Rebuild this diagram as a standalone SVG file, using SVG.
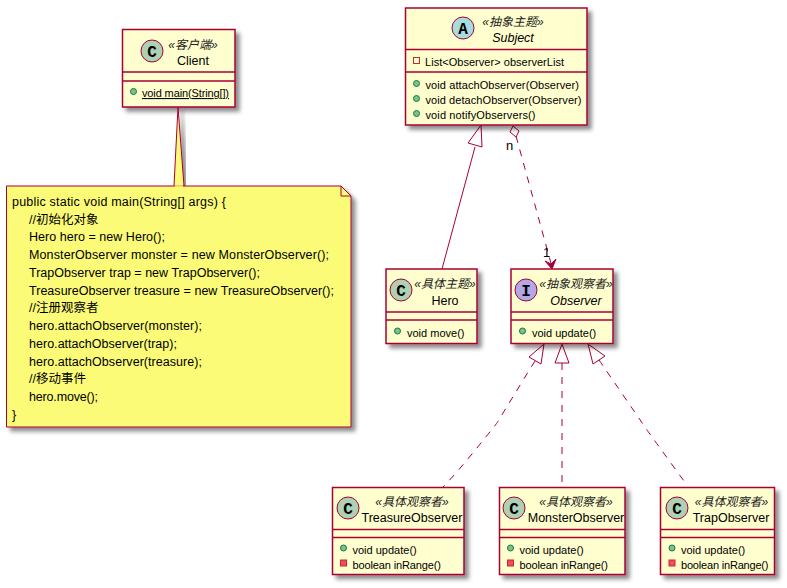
<svg xmlns="http://www.w3.org/2000/svg" width="787" height="588" viewBox="0 0 787 588">
<defs>
<filter id="sh" x="-10%" y="-10%" width="125%" height="125%"><feDropShadow dx="4" dy="4" stdDev="2" flood-color="#000" flood-opacity="0.45"/></filter>
</defs>
<style>
text{font-family:"Liberation Sans","Noto Sans CJK SC",sans-serif;fill:#000}
.box{fill:#FEFECE;stroke:#A80036;stroke-width:1.5;filter:url(#sh)}
.div{stroke:#A80036;stroke-width:1.5;fill:none}
.st{font-size:12px;font-style:italic;text-anchor:middle;fill:#222}
.nm{font-size:12.5px;text-anchor:middle}
.it{font-style:italic}
.m{font-size:11px}
.pub{fill:#84BE84;stroke:#038048;stroke-width:1}
.prv{fill:#F24D5C;stroke:#C82930;stroke-width:1}
.prf{fill:none;stroke:#C82930;stroke-width:1}
.ci{stroke:#A80036;stroke-width:1}
.gl{font-family:"Liberation Mono",monospace;font-size:16px;font-weight:bold;text-anchor:middle}
.c{fill:#ADD1B2}.a{fill:#A9DCDF}.i{fill:#B4A7E5}
.ln{stroke:#A80036;stroke-width:1;fill:none}
.da{stroke-dasharray:7 7}
.tri{fill:none;stroke:#A80036;stroke-width:1}
.nt{font-size:12.5px}
.lb{font-size:13px}
</style>

<g id="connectors">
<path class="ln" d="M442,269 L475,147"/>
<polygon class="tri" points="481,125 468,143 482,147"/>
<path class="ln da" d="M516,136 L552,267"/>
<polygon fill="#fff" stroke="#A80036" stroke-width="1" points="513,126 519,131 516,137 510,132"/>
<polygon fill="#A80036" stroke="#A80036" stroke-width="1" points="552,269 545,261 551,264 556,259"/>
<text class="lb" x="506" y="150">n</text>
<text class="lb" x="543" y="257">1</text>
<path class="ln da" d="M535,361 C520,385 497,423 497,423 S460,470 443,487"/>
<polygon class="tri" points="544,344 529,357 541,364"/>
<path class="ln da" d="M562,363 L562,484"/>
<polygon class="tri" points="562,344 555,363 569,363"/>
<path class="ln da" d="M599,360 C610,376 647,430 647,430 S670,462 684,481"/>
<polygon class="tri" points="588,344 593,364 605,356"/>
</g>

<g id="Subject">
<rect class="box" x="405.500" y="8" width="181.500" height="117"/>
<path class="div" d="M405.500,49.500H587M405.500,72H587"/>
<circle class="ci a" cx="463" cy="28" r="11"/>
<text class="gl" x="463" y="33.500">A</text>
<text class="st" x="513" y="26">«抽象主题»</text>
<text class="nm it" x="513" y="42">Subject</text>
<rect class="prf" x="413.500" y="57.500" width="6" height="6"/>
<text class="m" x="425" y="66" textLength="139">List&lt;Observer&gt; observerList</text>
<circle class="pub" cx="416.500" cy="83.500" r="3"/>
<text class="m" x="425.500" y="89" textLength="153.500">void attachObserver(Observer)</text>
<circle class="pub" cx="416.500" cy="98.500" r="3"/>
<text class="m" x="425.500" y="104" textLength="156">void detachObserver(Observer)</text>
<circle class="pub" cx="416.500" cy="113.500" r="3"/>
<text class="m" x="425.500" y="119" textLength="110">void notifyObservers()</text>
</g>

<g id="Client">
<rect class="box" x="122.500" y="29.500" width="112.500" height="77.500"/>
<path class="div" d="M122.500,72H235M122.500,81H235"/>
<circle class="ci c" cx="152" cy="51" r="11"/>
<text class="gl" x="152" y="56.500">C</text>
<text class="st" x="193" y="49">«客户端»</text>
<text class="nm" x="193" y="65">Client</text>
<circle class="pub" cx="133.500" cy="91.500" r="3"/>
<text class="m" x="142" y="97" text-decoration="underline" textLength="87">void main(String[])</text>
</g>

<g id="Note">
<path d="M178,107 L174,186 H184 Z" fill="#FBFB77" stroke="#A80036" stroke-width="1" filter="url(#sh)"/>
<path d="M6.500,186 H341 L351,196 V427 H6.500 Z" fill="#FBFB77" stroke="#A80036" stroke-width="1" filter="url(#sh)"/>
<path d="M174.800,186 H183" stroke="#FBFB77" stroke-width="1.500"/>
<path d="M341,186 V196 H351" fill="none" stroke="#A80036" stroke-width="1"/>
<text class="nt" x="12" y="206" textLength="214">public static void main(String[] args) {</text>
<text class="nt" x="29" y="224">//初始化对象</text>
<text class="nt" x="29" y="241" textLength="136">Hero hero = new Hero();</text>
<text class="nt" x="29" y="259" textLength="300">MonsterObserver monster = new MonsterObserver();</text>
<text class="nt" x="29" y="277" textLength="231">TrapObserver trap = new TrapObserver();</text>
<text class="nt" x="29" y="295" textLength="305">TreasureObserver treasure = new TreasureObserver();</text>
<text class="nt" x="29" y="312">//注册观察者</text>
<text class="nt" x="29" y="330" textLength="173">hero.attachObserver(monster);</text>
<text class="nt" x="29" y="348" textLength="148">hero.attachObserver(trap);</text>
<text class="nt" x="29" y="366" textLength="173">hero.attachObserver(treasure);</text>
<text class="nt" x="29" y="383">//移动事件</text>
<text class="nt" x="29" y="401" textLength="69">hero.move();</text>
<text class="nt" x="12" y="419">}</text>
</g>

<g id="Hero">
<rect class="box" x="386" y="269" width="91" height="74.500"/>
<path class="div" d="M386,312H477M386,320H477"/>
<circle class="ci c" cx="401" cy="290" r="11"/>
<text class="gl" x="401" y="295.500">C</text>
<text class="st" x="445" y="288">«具体主题»</text>
<text class="nm" x="445" y="305">Hero</text>
<circle class="pub" cx="397.500" cy="331" r="3"/>
<text class="m" x="407" y="336.500">void move()</text>
</g>

<g id="Observer">
<rect class="box" x="511" y="269" width="102" height="74.500"/>
<path class="div" d="M511,312H613M511,320H613"/>
<circle class="ci i" cx="526" cy="290" r="11"/>
<text class="gl" x="526" y="295.500">I</text>
<text class="st" x="576" y="288">«抽象观察者»</text>
<text class="nm it" x="576" y="305">Observer</text>
<circle class="pub" cx="522.500" cy="331" r="3"/>
<text class="m" x="532" y="336.500">void update()</text>
</g>

<g id="TreasureObserver">
<rect class="box" x="332.500" y="487.500" width="131.500" height="87"/>
<path class="div" d="M332.500,529.500H464M332.500,537.500H464"/>
<circle class="ci c" cx="348" cy="508" r="11"/>
<text class="gl" x="348" y="513.500">C</text>
<text class="st" x="412" y="506">«具体观察者»</text>
<text class="nm" x="412" y="522">TreasureObserver</text>
<circle class="pub" cx="343.500" cy="548" r="3"/>
<text class="m" x="352.500" y="553.500">void update()</text>
<rect class="prv" x="340.500" y="560" width="6" height="6"/>
<text class="m" x="352.500" y="568.500" textLength="88.500">boolean inRange()</text>
</g>

<g id="MonsterObserver">
<rect class="box" x="499.500" y="487.500" width="125.500" height="87"/>
<path class="div" d="M499.500,529.500H625M499.500,537.500H625"/>
<circle class="ci c" cx="514" cy="508" r="11"/>
<text class="gl" x="514" y="513.500">C</text>
<text class="st" x="576" y="506">«具体观察者»</text>
<text class="nm" x="576" y="522">MonsterObserver</text>
<circle class="pub" cx="510.500" cy="548" r="3"/>
<text class="m" x="519.500" y="553.500">void update()</text>
<rect class="prv" x="507.500" y="560" width="6" height="6"/>
<text class="m" x="519.500" y="568.500" textLength="88.500">boolean inRange()</text>
</g>

<g id="TrapObserver">
<rect class="box" x="660.500" y="487.500" width="114" height="87"/>
<path class="div" d="M660.500,529.500H774.500M660.500,537.500H774.500"/>
<circle class="ci c" cx="677" cy="508" r="11"/>
<text class="gl" x="677" y="513.500">C</text>
<text class="st" x="731.500" y="506">«具体观察者»</text>
<text class="nm" x="731" y="522">TrapObserver</text>
<circle class="pub" cx="672" cy="548" r="3"/>
<text class="m" x="681" y="553.500">void update()</text>
<rect class="prv" x="669" y="560" width="6" height="6"/>
<text class="m" x="681" y="568.500" textLength="87.500">boolean inRange()</text>
</g>
</svg>
